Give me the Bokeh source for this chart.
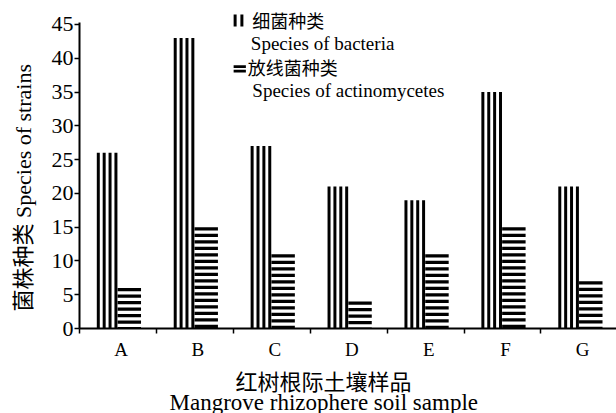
import numpy as np
from bokeh.plotting import figure
from bokeh.models import Range1d, FixedTicker, Label, Title
from bokeh.embed import file_html
from bokeh.resources import INLINE

# ---------------- data ----------------
categories = ["A", "B", "C", "D", "E", "F", "G"]
bacteria = [26, 43, 27, 21, 19, 35, 21]          # 细菌种类 Species of bacteria
actinomycetes = [6, 15, 11, 4, 11, 15, 7]        # 放线菌种类 Species of actinomycetes
y_ticks = [0, 5, 10, 15, 20, 25, 30, 35, 40, 45]

# ---------------- layout ----------------
W, H = 616, 413
ML, MB = 77, 85
FW, FH = W - ML, H - MB
PX_X = 77.2      # px per category
PX_Y = 6.756     # px per unit
X0 = ML          # canvas x of x=0
Y0 = FH          # canvas y of y=0


def dx(px):
    return (px - X0) / PX_X


def dy(py):
    return (Y0 - py) / PX_Y


SERIF = "Liberation Serif"
CJK = "Noto Sans CJK SC"
MIXED = "Liberation Serif, Noto Sans CJK SC"

p = figure(width=W, height=H, output_backend="svg", toolbar_location=None,
           x_range=Range1d(0, FW / PX_X), y_range=Range1d(0, FH / PX_Y),
           min_border_left=ML, min_border_right=0, min_border_top=0,
           min_border_bottom=MB)
p.outline_line_color = None
p.xgrid.visible = False
p.ygrid.visible = False
p.background_fill_color = "white"
p.border_fill_color = "white"

n = len(categories)
idx = np.arange(n)

# ---- bars: white base bars carry the values, stripes drawn on top ----
b_left_off, b_step, b_sw = 0.225, 5.9 / PX_X, 3.0 / PX_X
b_width = 3 * b_step + b_sw
a_left_off, a_right_off = 0.495, 0.80
p.vbar(x=idx + b_left_off + b_width / 2, top=bacteria, width=b_width,
       fill_color="white", line_color=None)
p.vbar(x=idx + (a_left_off + a_right_off) / 2, top=actinomycetes,
       width=a_right_off - a_left_off, fill_color="white", line_color=None)

# vertical stripes for bacteria
bl, br, bt = [], [], []
for i, v in zip(idx, bacteria):
    for k in range(4):
        l = i + b_left_off + k * b_step
        bl.append(l)
        br.append(l + b_sw)
        bt.append(v)
p.quad(left=bl, right=br, bottom=0, top=bt, fill_color="black", line_color=None)

# horizontal stripes for actinomycetes
a_step, a_th = 6.5 / PX_Y, 3.3 / PX_Y
al, ar, ab, at = [], [], [], []
for i, v in zip(idx, actinomycetes):
    t = float(v)
    while t > 0:
        al.append(i + a_left_off)
        ar.append(i + a_right_off)
        at.append(t)
        ab.append(max(t - a_th, 0.0))
        t -= a_step
p.quad(left=al, right=ar, bottom=ab, top=at, fill_color="black", line_color=None)

# ---------------- axes ----------------
yax = p.yaxis[0]
yax.ticker = FixedTicker(ticks=y_ticks)
yax.bounds = (0, dy(22))
yax.axis_line_width = 2
yax.major_tick_line_width = 1.5
yax.major_tick_out = 5
yax.major_tick_in = 0
yax.minor_tick_out = 0
yax.minor_tick_in = 0
yax.major_label_standoff = 1
yax.major_label_text_font = SERIF
yax.major_label_text_font_size = "22px"
yax.major_label_text_color = "black"

xax = p.xaxis[0]
centers = [float(i + 0.54) for i in idx]
xax.ticker = FixedTicker(ticks=centers, minor_ticks=[float(i) for i in range(n + 1)])
xax.major_label_overrides = {c: lab for c, lab in zip(centers, categories)}
xax.axis_line_width = 2
xax.major_tick_out = 0
xax.major_tick_in = 0
xax.minor_tick_out = 5
xax.minor_tick_in = 0
xax.minor_tick_line_width = 1.5
xax.major_label_standoff = 5
xax.major_label_text_font = SERIF
xax.major_label_text_font_size = "19px"
xax.major_label_text_color = "black"

# ---------------- axis titles ----------------
p.add_layout(Title(text="红树根际土壤样品", align="left", offset=156, standoff=-2,
                   text_font=CJK, text_font_size="22px", text_font_style="normal",
                   text_color="black"), "below")
p.add_layout(Title(text="Mangrove rhizophere soil sample", align="left", offset=90,
                   standoff=-14, text_font=SERIF, text_font_size="23px",
                   text_font_style="normal", text_color="black"), "below")
p.add_layout(Title(text="菌株种类 Species of strains", align="left", offset=17,
                   standoff=21, vertical_align="top", text_font=MIXED,
                   text_font_size="22px", text_font_style="normal",
                   text_color="black"), "left")

# ---------------- legend ----------------
leg_v_l = [dx(231.7), dx(238.5)]
p.quad(left=leg_v_l, right=[x + 3.0 / PX_X for x in leg_v_l],
       bottom=dy(26), top=dy(14), fill_color="black", line_color=None)
leg_h_t = [dy(64.8), dy(69.3)]
p.quad(left=dx(231.7), right=dx(244), top=leg_h_t,
       bottom=[t - 2.6 / PX_Y for t in leg_h_t], fill_color="black", line_color=None)


def add_label(x, y, text, font, size, align="left", baseline="middle"):
    p.add_layout(Label(x=x, y=y, text=text, text_font=font, text_font_size=size,
                       text_align=align, text_baseline=baseline, text_color="black"))


add_label(dx(250.5), dy(19), "细菌种类", CJK, "18px")
add_label(dx(249), dy(43), "Species of bacteria", SERIF, "19px", baseline="alphabetic")
add_label(dx(246), dy(66.5), "放线菌种类", CJK, "18px")
add_label(dx(250.5), dy(90), "Species of actinomycetes", SERIF, "19px", baseline="alphabetic")

open("out.html", "w").write(file_html(p, INLINE))
